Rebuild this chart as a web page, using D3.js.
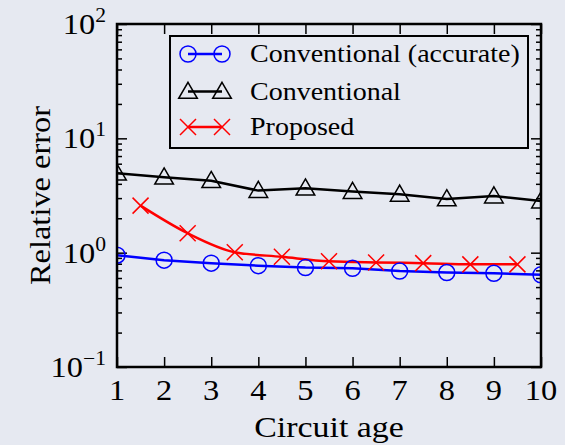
<!DOCTYPE html>
<html>
<head>
<meta charset="utf-8">
<script src="https://cdn.jsdelivr.net/npm/d3@7"></script>
<style>
  html, body { margin: 0; padding: 0; background: #e6e9f1; }
  svg { display: block; font-family: "Liberation Serif", "DejaVu Serif", serif; }
</style>
</head>
<body>
<div id="chart"></div>
<script>
// data
const ages = [1, 2, 3, 4, 5, 6, 7, 8, 9, 10];
const accurate = [0.95, 0.86, 0.81, 0.77, 0.74, 0.73, 0.69, 0.67, 0.66, 0.64];
const conventional = [4.95, 4.57, 4.26, 3.49, 3.66, 3.42, 3.24, 2.95, 3.13, 2.83];
const proposedAges = [1.5, 2.5, 3.5, 4.5, 5.5, 6.5, 7.5, 8.5, 9.5];
const proposed = [2.58, 1.48, 1.01, 0.92, 0.84, 0.82, 0.81, 0.79, 0.79];
const xTicks = [1, 2, 3, 4, 5, 6, 7, 8, 9, 10];
const yTicks = [0.1, 1, 10, 100];
const yExp = ["\u22121", "0", "1", "2"];

const width = 565,
  height = 445,
  margin = { top: 24, right: 24, bottom: 78, left: 117 };

const svg = d3
  .select("#chart")
  .append("svg")
  .attr("width", width)
  .attr("height", height);

const x = d3.scaleLinear().domain([1, 10]).range([margin.left, width - margin.right]);
const y = d3.scaleLog().domain([0.1, 100]).range([height - margin.bottom, margin.top]);

// widen serif text a bit (the original font is wider)
function stretch(sel, f) {
  sel.each(function () {
    const w = this.getComputedTextLength();
    d3.select(this).attr("textLength", w * f).attr("lengthAdjust", "spacingAndGlyphs");
  });
}

//minor ticks for log axis
const minor = [];
[0.1, 1, 10].forEach(d => {
  for (let k = 2; k <= 9; k++) minor.push(d * k);
});

// left / right axes
svg.append("g")
  .attr("transform", `translate(${margin.left},0)`)
  .call(d3.axisRight(y).tickValues(minor).tickSize(5).tickFormat(""))
  .call(g => g.select(".domain").remove());
svg.append("g")
  .attr("transform", `translate(${margin.left},0)`)
  .call(d3.axisRight(y).tickValues(yTicks).tickSize(10).tickFormat(""))
  .call(g => g.select(".domain").remove());
svg.append("g")
  .attr("transform", `translate(${width - margin.right},0)`)
  .call(d3.axisLeft(y).tickValues(minor).tickSize(5).tickFormat(""))
  .call(g => g.select(".domain").remove());
svg.append("g")
  .attr("transform", `translate(${width - margin.right},0)`)
  .call(d3.axisLeft(y).tickValues(yTicks).tickSize(10).tickFormat(""))
  .call(g => g.select(".domain").remove());

// top / bottom axes
svg.append("g")
  .attr("transform", `translate(0,${height - margin.bottom})`)
  .call(d3.axisTop(x).tickValues(xTicks).tickSize(10).tickFormat(""))
  .call(g => g.select(".domain").remove());
svg.append("g")
  .attr("transform", `translate(0,${margin.top})`)
  .call(d3.axisBottom(x).tickValues(xTicks).tickSize(10).tickFormat(""))
  .call(g => g.select(".domain").remove());

svg.selectAll(".tick line").attr("stroke", "#000").attr("stroke-width", 1.5);

// x tick labels
svg.append("g")
  .selectAll("text")
  .data(xTicks)
  .enter()
  .append("text")
  .attr("x", d => x(d))
  .attr("y", height - margin.bottom + 33)
  .attr("text-anchor", "middle")
  .attr("font-size", 30)
  .text(d => d)
  .call(stretch, 1.08);

// y tick labels with superscripts
const yl = svg.append("g")
  .selectAll("text")
  .data(yTicks)
  .enter()
  .append("text")
  .attr("x", margin.left - 11)
  .attr("y", d => y(d) + 10)
  .attr("text-anchor", "end")
  .attr("font-size", 30);
yl.append("tspan").text("10");
yl.append("tspan")
  .attr("font-size", 20)
  .attr("dy", -12)
  .text((d, i) => yExp[i]);
yl.call(stretch, 1.08);

// axis titles
svg.append("text")
  .attr("x", (margin.left + width - margin.right) / 2)
  .attr("y", 437)
  .attr("text-anchor", "middle")
  .attr("font-size", 30)
  .text("Circuit age")
  .call(stretch, 1.13);
svg.append("text")
  .attr("transform", `translate(50,${(margin.top + height - margin.bottom) / 2}) rotate(-90)`)
  .attr("text-anchor", "middle")
  .attr("font-size", 30)
  .text("Relative error")
  .call(stretch, 1.08);

// clip for the plot area
svg.append("clipPath").attr("id", "clip")
  .append("rect")
  .attr("x", margin.left)
  .attr("y", margin.top)
  .attr("width", width - margin.left - margin.right)
  .attr("height", height - margin.top - margin.bottom);

const plot = svg.append("g").attr("clip-path", "url(#clip)");

const line = d3.line().x(d => x(d[0])).y(d => y(d[1]));

const accData = ages.map((a, i) => [a, accurate[i]]);
const convData = ages.map((a, i) => [a, conventional[i]]);
const propData = proposedAges.map((a, i) => [a, proposed[i]]);

plot.append("path").datum(convData)
  .attr("d", line).attr("fill", "none").attr("stroke", "#000").attr("stroke-width", 2.5);
plot.append("path").datum(propData)
  .attr("d", line.curve(d3.curveMonotoneX)).attr("fill", "none").attr("stroke", "#ff0000").attr("stroke-width", 2.5);
line.curve(d3.curveLinear);
plot.append("path").datum(accData)
  .attr("d", line).attr("fill", "none").attr("stroke", "#0000ff").attr("stroke-width", 2.5);

const triangle = d3.symbol().type(d3.symbolTriangle).size(150);
const cross = "M-8,-8L8,8M-8,8L8,-8";

function drawTri(g, px, py) {
  g.append("path").attr("d", triangle())
    .attr("transform", `translate(${px},${py + 1.5})`)
    .attr("fill", "none").attr("stroke", "#000").attr("stroke-width", 1.5);
}
function drawCircle(g, px, py) {
  g.append("circle").attr("cx", px).attr("cy", py).attr("r", 8)
    .attr("fill", "none").attr("stroke", "#0000ff").attr("stroke-width", 1.5);
}
function drawCross(g, px, py) {
  g.append("path").attr("d", cross)
    .attr("transform", `translate(${px},${py})`)
    .attr("fill", "none").attr("stroke", "#ff0000").attr("stroke-width", 1.5);
}

convData.forEach(d => drawTri(plot, x(d[0]), y(d[1])));
propData.forEach(d => drawCross(plot, x(d[0]), y(d[1])));
accData.forEach(d => drawCircle(plot, x(d[0]), y(d[1])));

// frame
svg.append("rect")
  .attr("x", margin.left)
  .attr("y", margin.top)
  .attr("width", width - margin.left - margin.right)
  .attr("height", height - margin.top - margin.bottom)
  .attr("fill", "none")
  .attr("stroke", "#000")
  .attr("stroke-width", 2.5);

// legend
const legendNames = ["Conventional (accurate)", "Conventional", "Proposed"];
const legendRows = [54, 91.5, 127];
const leg = svg.append("g");
leg.append("rect")
  .attr("x", 170).attr("y", 36).attr("width", 358).attr("height", 112)
  .attr("fill", "#e6e9f1").attr("stroke", "#000").attr("stroke-width", 2);
const legColors = ["#0000ff", "#000", "#ff0000"];
const legDraw = [drawCircle, drawTri, drawCross];
legendNames.forEach((name, i) => {
  const ly = legendRows[i];
  leg.append("line").attr("x1", 188).attr("x2", 222).attr("y1", ly).attr("y2", ly)
    .attr("stroke", legColors[i]).attr("stroke-width", 2.5);
  legDraw[i](leg, 188, ly);
  legDraw[i](leg, 222, ly);
  leg.append("text").attr("x", 250).attr("y", ly + 8)
    .attr("font-size", 25).text(name)
    .call(stretch, 1.12);
});
</script>
</body>
</html>
